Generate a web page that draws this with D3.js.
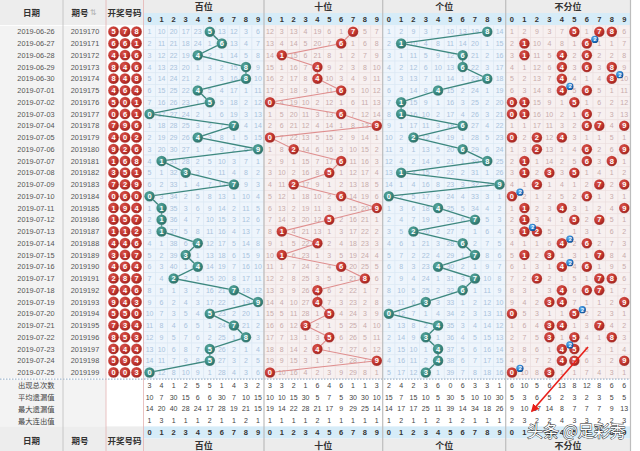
<!DOCTYPE html>
<html>
<head>
<meta charset="utf-8">
<script src="https://cdn.jsdelivr.net/npm/d3@7"></script>
<style>
  body { margin: 0; background: #fff; }
  svg { display: block; font-family: "Liberation Sans", "DejaVu Sans", sans-serif; }
  .cjk { font-family: "Noto Sans CJK SC", sans-serif; }
</style>
</head>
<body>
<div id="chart"></div>
<script>
// draw data of the 3D lottery, one entry per period
var dates = ['2019-06-26', '2019-06-27', '2019-06-28', '2019-06-29', '2019-06-30', '2019-07-01',
  '2019-07-02', '2019-07-03', '2019-07-04', '2019-07-05', '2019-07-06', '2019-07-07', '2019-07-08',
  '2019-07-09', '2019-07-10', '2019-07-11', '2019-07-12', '2019-07-13', '2019-07-14', '2019-07-15',
  '2019-07-16', '2019-07-17', '2019-07-18', '2019-07-19', '2019-07-20', '2019-07-21', '2019-07-22',
  '2019-07-23', '2019-07-24', '2019-07-25']
var issues = ['2019170', '2019171', '2019172', '2019173', '2019174', '2019175', '2019176', '2019177',
  '2019178', '2019179', '2019180', '2019181', '2019182', '2019183', '2019184', '2019185', '2019186',
  '2019187', '2019188', '2019189', '2019190', '2019191', '2019192', '2019193', '2019194', '2019195',
  '2019196', '2019197', '2019198', '2019199']
var hundreds = [5, 6, 4, 8, 8, 4, 5, 0, 7, 4, 9, 1, 3, 7, 0, 1, 1, 1, 4, 3, 4, 2, 7, 9, 5, 7, 8, 5, 5, 0]
var tens = [7, 6, 1, 4, 4, 6, 0, 6, 9, 0, 2, 6, 5, 2, 6, 9, 5, 1, 4, 1, 6, 8, 4, 4, 5, 3, 5, 4, 9, 0]
var units = [8, 1, 6, 6, 8, 4, 1, 1, 6, 2, 6, 8, 1, 9, 0, 4, 7, 2, 6, 7, 4, 7, 6, 3, 0, 4, 3, 4, 4, 3]

// omission values of the first row as printed (0 = drawn)
var firstHundreds = [1, 10, 20, 17, 23, 0, 13, 12, 3, 6]
var firstTens = [12, 3, 13, 4, 19, 6, 1, 0, 5, 7]
var firstUnits = [1, 2, 9, 3, 7, 10, 13, 19, 0, 14]
var firstAny = [1, 2, 9, 3, 7, 0, 1, 0, 0, 6]

// statistics rows under the table, per section
var statLabels = ['出现总次数', '平均遗漏值', '最大遗漏值', '最大连出值']
var statTotal = [[3, 4, 1, 2, 5, 5, 1, 4, 3, 2], [3, 3, 2, 1, 6, 4, 6, 1, 1, 3], [2, 4, 2, 3, 6, 0, 6, 3, 3, 1], [6, 10, 5, 6, 13, 8, 12, 8, 6, 6]]
var statAvg = [[10, 7, 30, 15, 6, 6, 30, 7, 10, 15], [10, 10, 15, 30, 5, 7, 5, 30, 30, 10], [15, 7, 15, 10, 5, 30, 5, 10, 10, 30], [5, 3, 6, 5, 2, 3, 2, 3, 5, 5]]
var statMaxOmit = [[14, 20, 40, 28, 24, 17, 28, 19, 21, 15], [19, 14, 22, 28, 21, 17, 9, 29, 25, 14], [14, 17, 17, 25, 11, 39, 14, 34, 18, 26], [9, 10, 17, 14, 8, 7, 7, 7, 9, 13]]
var statMaxRun = [[1, 3, 1, 1, 1, 2, 1, 1, 2, 1], [1, 1, 1, 1, 2, 1, 1, 1, 1, 1], [1, 2, 1, 1, 2, 1, 2, 1, 1, 1], [2, 3, 2, 2, 4, 3, 3, 2, 2, 3]]
var digits = d3.range(10)

var width = 640
var height = 451
var rowH = 11.75
var top0 = 25.8
var statTop = 379.6
var statH = 11.7

var svg = d3.select('#chart').append('svg').attr('width', width).attr('height', height)
var defs = svg.append('defs')
function grad (id, c0, c1, c2) {
  var g = defs.append('radialGradient').attr('id', id).attr('cx', '38%').attr('cy', '35%').attr('r', '65%')
  g.append('stop').attr('offset', '0%').attr('stop-color', c0)
  g.append('stop').attr('offset', '65%').attr('stop-color', c1)
  g.append('stop').attr('offset', '100%').attr('stop-color', c2)
}
grad('gTeal', '#5aa89e', '#37877e', '#2b6e66')
grad('gRed', '#d9564d', '#bf332c', '#9e2420')
grad('gBlue', '#6fb6ee', '#1f78c8', '#0e4f94')

var y = d3.scaleBand().domain(d3.range(30)).range([top0, top0 + 30 * rowH])

// sections of the trend table
var sections = [
  { name: '百位', x0: 143.5, x1: 264, kind: 'blue', draw: hundreds, first: firstHundreds },
  { name: '十位', x0: 264, x1: 382.7, kind: 'red', draw: tens, first: firstTens },
  { name: '个位', x0: 382.7, x1: 505.7, kind: 'blue', draw: units, first: firstUnits },
  { name: '不分位', x0: 505.7, x1: 630.5, kind: 'red', any: true, first: firstAny }
]
var stats = [statTotal, statAvg, statMaxOmit, statMaxRun]

var theme = {
  blue: { bg: '#eef5fc', line: '#dbe8f4', txt: '#a9c3dc', ball: 'url(#gTeal)', path: '#3d887f', pw: 1.4 },
  red: { bg: '#f7f0f0', line: '#ebdede', txt: '#c9abab', ball: 'url(#gRed)', path: '#df8e8e', pw: 1.1 }
}

function hitCount (s, i, d) {
  if (s.any) {
    return [hundreds[i], tens[i], units[i]].filter(function (v) { return v === d }).length
  }
  return s.draw[i] === d ? 1 : 0
}

// omission table: carried on from the first printed row
sections.forEach(function (s) {
  s.x = d3.scaleBand().domain(digits).range([s.x0, s.x1])
  s.rows = []
  var prev = s.first
  for (var i = 0; i < 30; i++) {
    var row = i === 0 ? s.first.slice() : digits.map(function (d) {
      return hitCount(s, i, d) ? 0 : prev[d] + 1
    })
    s.rows.push(row)
    prev = row
  }
})

// ---- left columns background
svg.append('rect').attr('x', 0).attr('y', 0).attr('width', 631).attr('height', height).attr('fill', '#fff')
svg.append('rect').attr('x', 0).attr('y', top0).attr('width', 106).attr('height', 30 * rowH).attr('fill', '#f3f3f3')
svg.append('rect').attr('x', 0).attr('y', statTop).attr('width', 106).attr('height', 4 * statH).attr('fill', '#f3f3f3')

// header blocks (top and bottom)
function drawHeader (yTitle, yDigits, yLabel) {
  svg.append('rect').attr('x', 0).attr('y', Math.min(yTitle, yDigits)).attr('width', 143.5).attr('height', 25)
    .attr('fill', '#ededed')
  sections.forEach(function (s) {
    svg.append('rect').attr('x', s.x0).attr('y', yTitle).attr('width', s.x1 - s.x0).attr('height', 13)
      .attr('fill', '#ececec')
    svg.append('rect').attr('x', s.x0).attr('y', yDigits).attr('width', s.x1 - s.x0).attr('height', 12)
      .attr('fill', '#d6ecf8')
    svg.append('text').attr('class', 'cjk').attr('x', (s.x0 + s.x1) / 2).attr('y', yTitle + 10)
      .attr('text-anchor', 'middle').attr('font-size', 9).attr('font-weight', 'bold').attr('fill', '#333')
      .text(s.name)
    svg.append('g').selectAll('text').data(digits).enter().append('text')
      .attr('x', function (d) { return s.x(d) + s.x.bandwidth() / 2 })
      .attr('y', yDigits + 9)
      .attr('text-anchor', 'middle').attr('font-size', 7.5).attr('font-weight', 'bold').attr('fill', '#333')
      .text(function (d) { return d })
  })
  var labels = [['日期', 31.5], ['期号', 80], ['开奖号码', 124.5]]
  labels.forEach(function (l) {
    svg.append('text').attr('class', 'cjk').attr('x', l[1]).attr('y', yLabel)
      .attr('text-anchor', 'middle').attr('font-size', 8.5).attr('font-weight', 'bold').attr('fill', '#333')
      .text(l[0])
  })
}
drawHeader(0, 13, 15.5)
drawHeader(438.5, 426.4, 444)
// sort mark next to 期号 on top
svg.append('text').attr('x', 93).attr('y', 15).attr('font-size', 8).attr('fill', '#b0b0b0')
  .attr('text-anchor', 'middle').attr('font-family', 'DejaVu Sans').text('⇅')

// ---- section cells and omission numbers
sections.forEach(function (s) {
  var t = theme[s.kind]
  var g = svg.append('g')
  s.rows.forEach(function (row, i) {
    g.append('g').selectAll('rect').data(digits).enter().append('rect')
      .attr('x', function (d) { return s.x(d) })
      .attr('y', y(i))
      .attr('width', s.x.bandwidth()).attr('height', rowH)
      .attr('fill', t.bg).attr('stroke', t.line).attr('stroke-width', 0.6)
    g.append('g').selectAll('text').data(digits.filter(function (d) { return row[d] > 0 })).enter()
      .append('text')
      .attr('x', function (d) { return s.x(d) + s.x.bandwidth() / 2 })
      .attr('y', y(i) + rowH / 2 + 2.6)
      .attr('text-anchor', 'middle').attr('font-size', 7).attr('fill', t.txt)
      .text(function (d) { return row[d] })
  })
})

// left column texts
var gl = svg.append('g').attr('fill', '#555').attr('font-size', 7.3)
gl.selectAll('.date').data(dates).enter().append('text')
  .attr('x', 36).attr('y', function (d, i) { return y(i) + rowH / 2 + 2.6 })
  .attr('text-anchor', 'middle').text(function (d) { return d })
gl.selectAll('.issue').data(issues).enter().append('text')
  .attr('x', 85).attr('y', function (d, i) { return y(i) + rowH / 2 + 2.6 })
  .attr('text-anchor', 'middle').text(function (d) { return d })

function ball (g, cx, cy, fill, v, r) {
  g.append('circle').attr('cx', cx).attr('cy', cy).attr('r', r).attr('fill', fill)
    .attr('stroke', '#fff').attr('stroke-opacity', 0.35).attr('stroke-width', 0.6)
  g.append('text').attr('x', cx).attr('y', cy + 2.7).attr('text-anchor', 'middle')
    .attr('font-size', 7.5).attr('font-weight', 'bold').attr('fill', '#fff').text(v)
}

// draw numbers column
var gd = svg.append('g')
var drawX = d3.scalePoint().domain([0, 1, 2]).range([113.5, 136.5])
d3.range(30).forEach(function (i) {
  [hundreds[i], tens[i], units[i]].forEach(function (v, k) {
    ball(gd, drawX(k), y(i) + rowH / 2, 'url(#gRed)', v, 5.4)
  })
})

// ---- trend lines and balls
sections.forEach(function (s) {
  var t = theme[s.kind]
  var g = svg.append('g')
  var cx = function (d) { return s.x(d) + s.x.bandwidth() / 2 }
  if (!s.any) {
    var line = d3.line()
      .x(function (d) { return cx(d) })
      .y(function (d, i) { return y(i) + rowH / 2 })
    g.append('path').attr('d', line(s.draw)).attr('fill', 'none')
      .attr('stroke', t.path).attr('stroke-width', t.pw)
    s.draw.forEach(function (d, i) { ball(g, cx(d), y(i) + rowH / 2, t.ball, d, 5.3) })
  } else {
    var marks = []
    s.rows.forEach(function (row, i) {
      digits.forEach(function (d) {
        if (row[d] === 0) {
          ball(g, cx(d), y(i) + rowH / 2, t.ball, d, 5.3)
          var n = hitCount(s, i, d)
          if (n > 1) marks.push({ x: cx(d) + 8, y: y(i) + rowH / 2 - 4, n: n })
        }
      })
    })
    // repeat markers drawn on top
    marks.forEach(function (m) {
      g.append('circle').attr('cx', m.x).attr('cy', m.y).attr('r', 3.6).attr('fill', 'url(#gBlue)')
      g.append('text').attr('x', m.x + 0.3).attr('y', m.y + 2).attr('text-anchor', 'middle')
        .attr('font-size', 5.5).attr('font-weight', 'bold').attr('fill', '#fff').text(m.n)
    })
  }
})

// ---- statistics rows
svg.append('line').attr('x1', 0).attr('x2', 631).attr('y1', statTop - 0.5).attr('y2', statTop - 0.5)
  .attr('stroke', '#8aa6c2').attr('stroke-width', 1).attr('stroke-dasharray', '1.5,1.5')
statLabels.forEach(function (l, k) {
  var yy = statTop + k * statH + statH / 2 + 3
  svg.append('text').attr('class', 'cjk').attr('x', 18).attr('y', yy).attr('font-size', 7.3)
    .attr('fill', '#444').text(l)
  sections.forEach(function (s, si) {
    svg.append('g').selectAll('text').data(stats[k][si]).enter().append('text')
      .attr('x', function (d, i) { return s.x(i) + s.x.bandwidth() / 2 })
      .attr('y', yy - 0.4)
      .attr('text-anchor', 'middle').attr('font-size', 7).attr('fill', '#444')
      .text(function (d) { return d })
  })
})

// ---- column separators
var seps = [63, 106, 143.5, 264, 382.7, 505.7, 630.5]
svg.append('g').selectAll('line').data(seps).enter().append('line')
  .attr('x1', function (d) { return d }).attr('x2', function (d) { return d })
  .attr('y1', 0).attr('y2', height)
  .attr('stroke', function (d, i) { return i === 1 || i === 2 ? '#e3b3b3' : '#bdbdbd' })
  .attr('stroke-width', function (d, i) { return i > 2 ? 1.2 : 0.8 })

// ---- annotation arrow and watermark
defs.append('marker').attr('id', 'arrow').attr('viewBox', '0 0 10 10').attr('refX', 8).attr('refY', 5)
  .attr('markerWidth', 5).attr('markerHeight', 5).attr('orient', 'auto')
  .append('path').attr('d', 'M0,0L10,5L0,10z').attr('fill', '#e8201a')
svg.append('line').attr('x1', 588).attr('y1', 347).attr('x2', 532).attr('y2', 411)
  .attr('stroke', '#e8201a').attr('stroke-width', 1.6).attr('marker-end', 'url(#arrow)')
svg.append('text').attr('class', 'cjk').attr('x', 527).attr('y', 437).attr('font-size', 16)
  .attr('fill', '#fff').attr('stroke', '#222').attr('stroke-width', 0.9).attr('paint-order', 'stroke')
  .text('头条 @足彩秀')
</script>
</body>
</html>
